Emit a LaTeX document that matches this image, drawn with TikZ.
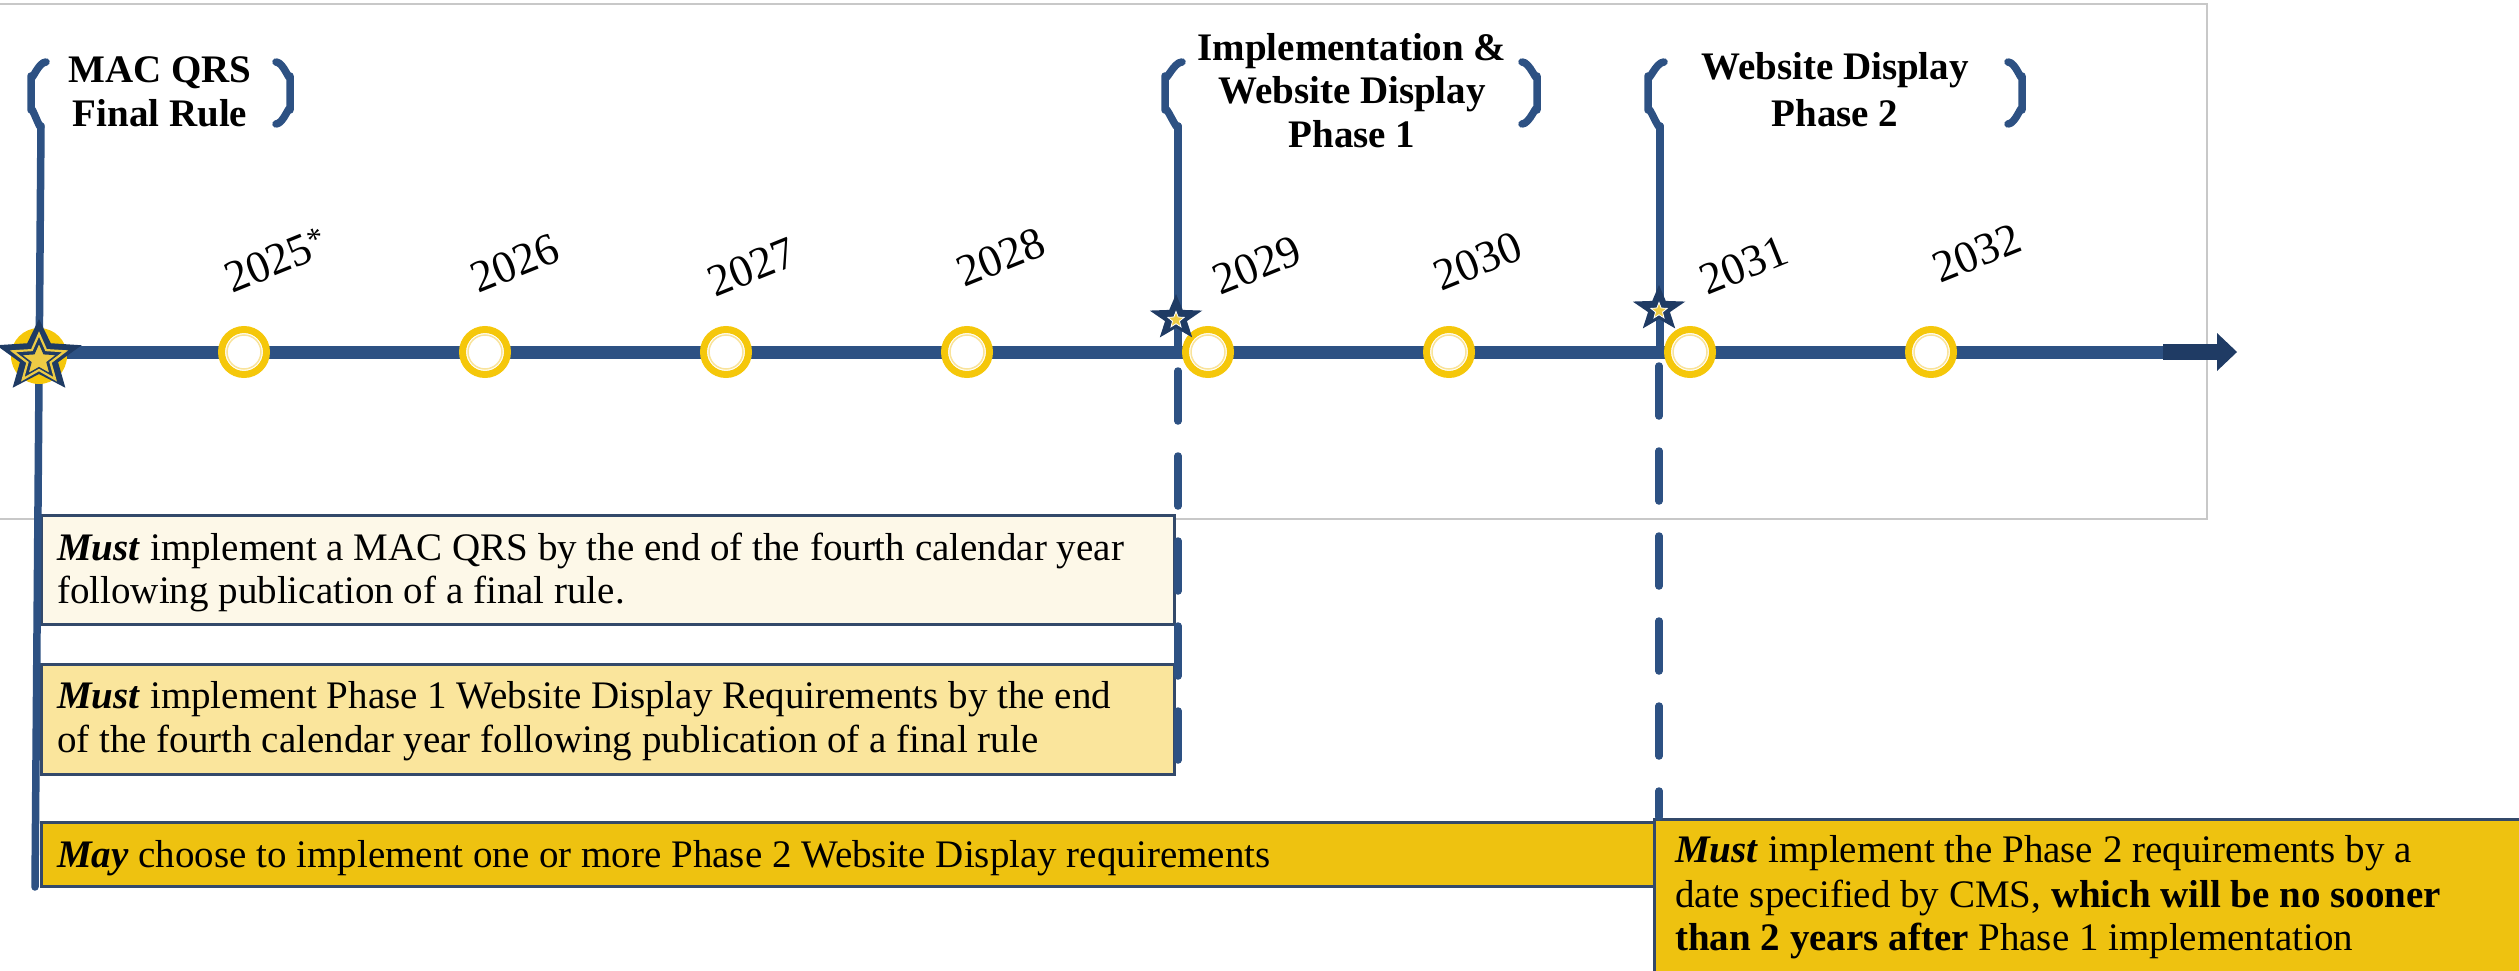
\documentclass[tikz,border=0pt]{standalone}
\usepackage{fontspec}
\setmainfont{Liberation Serif}
\definecolor{navy}{HTML}{2D5183}
\definecolor{navydark}{HTML}{1F3B64}
\definecolor{ringyel}{HTML}{F5C70A}
\definecolor{ringpale}{HTML}{F9E39A}
\definecolor{staryel}{HTML}{EDCB45}
\definecolor{boxA}{HTML}{FDF8E8}
\definecolor{boxB}{HTML}{FAE59C}
\definecolor{boxC}{HTML}{EEC210}
\definecolor{boxedge}{HTML}{33496A}
\definecolor{framegray}{HTML}{C8C8C8}
\newcommand{\myBody}{\fontsize{39}{44}\selectfont}
\newcommand{\myTitle}{\fontsize{39}{44}\selectfont\bfseries}
\newcommand{\myYear}{\fontsize{45}{48}\selectfont}
\tikzset{pics/starp/.style 2 args={code={\path[pic actions] (-90:#1) -- (-54:#2) -- (-18:#1) -- (18:#2) -- (54:#1) -- (90:#2) -- (126:#1) -- (162:#2) -- (198:#1) -- (234:#2) -- cycle;}}}
\begin{document}
\begin{tikzpicture}[x=1pt,y=-1pt,
  vline/.style={draw=navy, line width=7.5pt, line cap=round},
  dashv/.style={vline, dash pattern=on 50pt off 35pt},
  brk/.style={draw=navy, line width=7.5pt, line cap=round, line join=round},
  yrcircle/.style={circle, fill=white, draw=ringyel, line width=7pt, minimum size=45pt, inner sep=0pt},
  yearlbl/.style={font=\myYear, rotate=22, inner sep=0pt},
  ttl/.style={font=\myTitle, anchor=base, inner sep=0pt},
  txt/.style={font=\myBody, anchor=base west, inner sep=0pt},
  reqbox/.style={draw=boxedge, line width=2.5pt, anchor=north west, inner sep=0pt},
]
\useasboundingbox (0,0) rectangle (2519,971);
% light frame
\draw[framegray, line width=1.5pt] (-5,4) rectangle (2207,519);

% coordinates of the phase lines
\coordinate (v1top) at (41,126);
\coordinate (v1bot) at (35,887);
\coordinate (v2top) at (1178,126);
\coordinate (v2mid) at (1178,352);
\coordinate (v2ds) at (1178,371);
\coordinate (v2de) at (1178,760);
\coordinate (v3top) at (1660,126);
\coordinate (v3mid) at (1660,352);
\coordinate (v3ds) at (1659,366);
\coordinate (v3de) at (1659,817);
\coordinate (tstart) at (40,352);
\coordinate (tend) at (2165,352);

% requirement boxes
\node[reqbox, fill=boxA, minimum width=1133pt, minimum height=109pt] (box1) at (40,514) {};
\node[reqbox, fill=boxB, minimum width=1133pt, minimum height=110pt] (box2) at (40,663) {};
\node[reqbox, fill=boxC, minimum width=1613pt, minimum height=64pt] (box3) at (40,821) {};
\node[reqbox, fill=boxC, minimum width=900pt, minimum height=200pt] (box4) at (1653,818) {};

\node[txt] (t1a) at (57,560) {\textbf{\textit{Must}} implement a MAC QRS by the end of the fourth calendar year};
\node[txt] (t1b) at (57,603) {following publication of a final rule.};
\node[txt] (t2a) at (57,708) {\textbf{\textit{Must}} implement Phase 1 Website Display Requirements by the end};
\node[txt] (t2b) at (57,752) {of the fourth calendar year following publication of a final rule};
\node[txt] (t3a) at (57,867) {\textbf{\textit{May}} choose to implement one or more Phase 2 Website Display requirements};
\node[txt] (t4a) at (1675,862) {\textbf{\textit{Must}} implement the Phase 2 requirements by a};
\node[txt] (t4b) at (1675,907) {date specified by CMS, \textbf{which will be no sooner}};
\node[txt] (t4c) at (1675,950) {\textbf{than 2 years after} Phase 1 implementation};

% brackets and phase lines
\draw[brk] (46,62) to[out=180,in=-90] (31,76) -- (31,110) to[out=90,in=-90] (v1top);
\draw[brk] (276,62) to[out=0,in=-90] (290,76) -- (290,110) to[out=90,in=0] (276,124);
\draw[vline] (v1top) -- (v1bot);

\draw[brk] (1182,62) to[out=180,in=-90] (1165,76) -- (1165,110) to[out=90,in=-90] (v2top);
\draw[brk] (1522,62) to[out=0,in=-90] (1537,76) -- (1537,110) to[out=90,in=0] (1522,124);
\draw[vline] (v2top) -- (v2mid);
\draw[dashv] (v2ds) -- (v2de);

\draw[brk] (1664,62) to[out=180,in=-90] (1648,76) -- (1648,110) to[out=90,in=-90] (v3top);
\draw[brk] (2008,62) to[out=0,in=-90] (2022,76) -- (2022,110) to[out=90,in=0] (2008,124);
\draw[vline] (v3top) -- (v3mid);
\draw[dashv] (v3ds) -- (v3de);

% timeline
\draw[navy, line width=13pt] (tstart) -- (tend);
\fill[navydark] (2163,344) rectangle (2219,360);
\fill[navydark] (2217,333) -- (2237,352) -- (2217,371) -- cycle;

% year markers
\foreach \yr/\xx in {2025/244,2026/485,2027/726,2028/967,2029/1208,2030/1449,2031/1690,2032/1931}{
  \node[yrcircle] (c\yr) at (\xx,352) {};
  \draw[ringpale, line width=1.5pt] (c\yr.center) circle (17);
}

% stars
\fill[ringyel] (39,356) circle (28);
\pic[fill=navydark, xscale=1.18] at (39,357) {starp={38}{17}};
\pic[draw=staryel, line width=2.2pt, xscale=1.1] at (39,359) {starp={25}{11}};
\pic[fill=staryel, draw=navydark, line width=1pt, xscale=1.1] at (39,360) {starp={17}{7.5}};

\pic[fill=navydark, xscale=1.15] at (1176,318) {starp={24}{10}};
\pic[fill=staryel, draw=white, line width=0.8pt] at (1176,320) {starp={8.5}{3.7}};
\pic[fill=navydark, xscale=1.15] at (1659,309) {starp={24}{10}};
\pic[fill=staryel, draw=white, line width=0.8pt] at (1659,311) {starp={8.5}{3.7}};

% titles
\node[ttl] (tmac1) at (160,83) {MAC QRS};
\node[ttl] (tmac2) at (160,127) {Final Rule};
\node[ttl] (timp1) at (1352,61) {Implementation \&};
\node[ttl] (timp2) at (1352,104) {Website Display};
\node[ttl] (timp3) at (1352,148) {Phase 1};
\node[ttl] (tws1) at (1835,80) {Website Display};
\node[ttl] (tws2) at (1835,127) {Phase 2};

% year labels
\node[yearlbl] (l2025) at (276,260) {2025\textsuperscript{*}};
\node[yearlbl] (l2026) at (515,263) {2026};
\node[yearlbl] (l2027) at (752,267) {2027};
\node[yearlbl] (l2028) at (1001,257) {2028};
\node[yearlbl] (l2029) at (1257,265) {2029};
\node[yearlbl] (l2030) at (1478,261) {2030};
\node[yearlbl] (l2031) at (1744,265) {2031};
\node[yearlbl] (l2032) at (1977,253) {2032};
\end{tikzpicture}
\end{document}
